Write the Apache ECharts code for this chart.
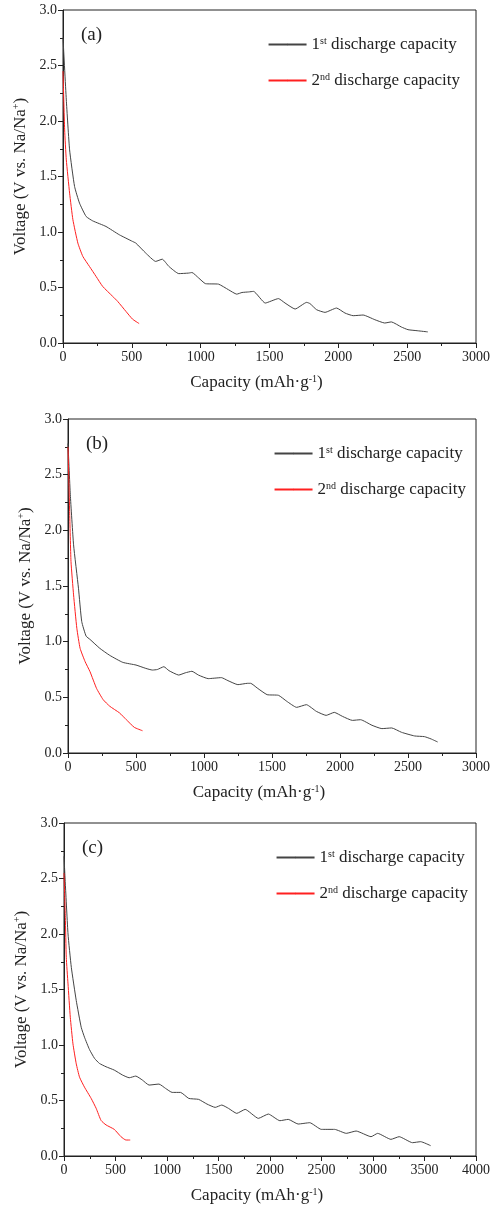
<!DOCTYPE html>
<html>
<head>
<meta charset="utf-8">
<script src="https://cdn.jsdelivr.net/npm/echarts@6/dist/echarts.min.js"></script>
<style>
  html, body { margin: 0; padding: 0; background: #fff; }
  #chart { width: 493px; height: 1207px; }
</style>
</head>
<body>
<div id="chart"></div>
<script>
// Panel (a)
const capA1 = [0, 24, 48, 84, 120, 168, 216, 312, 409, 505, 529, 601, 673, 721, 769, 841, 913, 937, 986, 1034, 1130, 1202, 1262, 1300, 1348, 1384, 1469, 1565, 1613, 1686, 1770, 1794, 1842, 1903, 1987, 2048, 2108, 2180, 2265, 2337, 2385, 2458, 2506, 2578, 2650];
const voltA1 = [2.75, 2.19, 1.74, 1.41, 1.26, 1.14, 1.10, 1.05, 0.975, 0.915, 0.90, 0.81, 0.735, 0.755, 0.69, 0.625, 0.63, 0.635, 0.585, 0.535, 0.53, 0.48, 0.44, 0.455, 0.46, 0.465, 0.36, 0.40, 0.36, 0.306, 0.366, 0.355, 0.30, 0.276, 0.315, 0.27, 0.246, 0.252, 0.21, 0.18, 0.19, 0.144, 0.12, 0.11, 0.10];
const capA2 = [0, 12, 24, 48, 72, 108, 144, 192, 240, 288, 361, 397, 457, 505, 553];
const voltA2 = [2.45, 1.92, 1.65, 1.35, 1.11, 0.90, 0.78, 0.69, 0.60, 0.51, 0.42, 0.375, 0.285, 0.215, 0.175];

// Panel (b)
const capB1 = [0, 17, 41, 77, 101, 133, 162, 234, 307, 403, 500, 572, 621, 657, 705, 742, 814, 862, 911, 959, 1031, 1128, 1176, 1249, 1321, 1343, 1391, 1464, 1548, 1609, 1681, 1753, 1826, 1898, 1958, 2018, 2091, 2151, 2235, 2308, 2380, 2452, 2549, 2621, 2670, 2718];
const voltB1 = [2.78, 2.32, 1.87, 1.48, 1.18, 1.05, 1.02, 0.94, 0.877, 0.814, 0.79, 0.76, 0.745, 0.75, 0.775, 0.74, 0.70, 0.72, 0.734, 0.70, 0.668, 0.677, 0.65, 0.614, 0.626, 0.626, 0.584, 0.524, 0.518, 0.464, 0.41, 0.434, 0.374, 0.338, 0.365, 0.329, 0.293, 0.299, 0.249, 0.219, 0.225, 0.186, 0.153, 0.147, 0.126, 0.099];
const capB2 = [0, 12, 22, 41, 65, 89, 126, 162, 210, 258, 307, 379, 428, 488, 548];
const voltB2 = [2.75, 2.17, 1.72, 1.42, 1.12, 0.94, 0.82, 0.73, 0.58, 0.48, 0.42, 0.36, 0.30, 0.23, 0.20];

// Panel (c)
const capC1 = [0, 13, 39, 71, 119, 167, 199, 247, 296, 344, 408, 488, 569, 633, 697, 761, 826, 922, 986, 1050, 1131, 1211, 1307, 1388, 1468, 1532, 1597, 1677, 1759, 1887, 1984, 2096, 2177, 2273, 2386, 2498, 2627, 2740, 2836, 2981, 3045, 3174, 3254, 3383, 3463, 3560];
const voltC1 = [2.7, 2.45, 2.0, 1.70, 1.40, 1.16, 1.07, 0.96, 0.88, 0.834, 0.804, 0.774, 0.729, 0.705, 0.72, 0.684, 0.639, 0.648, 0.609, 0.573, 0.573, 0.519, 0.51, 0.468, 0.438, 0.459, 0.429, 0.384, 0.42, 0.339, 0.378, 0.318, 0.33, 0.288, 0.30, 0.24, 0.24, 0.204, 0.225, 0.174, 0.204, 0.15, 0.174, 0.12, 0.129, 0.093];
const capC2 = [0, 13, 22, 39, 61, 87, 119, 151, 199, 263, 312, 360, 408, 488, 553, 601, 643];
const voltC2 = [2.55, 2.15, 1.79, 1.55, 1.25, 1.01, 0.83, 0.71, 0.62, 0.52, 0.43, 0.32, 0.28, 0.24, 0.174, 0.144, 0.144];

const panelLabels = ['(a)', '(b)', '(c)'];
const xMaxes = [3000, 3000, 4000];
const seriesNames = ['1st discharge capacity', '2nd discharge capacity'];

const font = 'Liberation Serif';
const lineColors = ['#444', '#ff2020'];
const grids = [
    { left: 63, right: 15, top: 10, height: 333 },
    { left: 68, right: 11, top: 419, height: 334 },
    { left: 64, right: 14, top: 823, height: 333 }
];
const legendRight = [33, 27, 25];

function pairs(xs, ys) {
    return xs.map(function(x, i) { return [x, ys[i]]; });
}

const curves = [
    [pairs(capA1, voltA1), pairs(capA2, voltA2)],
    [pairs(capB1, voltB1), pairs(capB2, voltB2)],
    [pairs(capC1, voltC1), pairs(capC2, voltC2)]
];

const supStyle = { fontSize: 10, verticalAlign: 'top', padding: [0, 0, 7, 0], fontFamily: font, color: '#222' };

const chart = echarts.init(document.getElementById('chart'));

const xAxes = [], yAxes = [], series = [], legends = [], titles = [];
grids.forEach(function(g, i) {
    g.show = true;
    g.borderColor = '#222';
    g.borderWidth = 1;
    // unique names per panel so each legend picks its own series
    const names = seriesNames.map(function(n) { return n + ' ' + panelLabels[i]; });
    xAxes.push({
        type: 'value',
        gridIndex: i,
        min: 0,
        max: xMaxes[i],
        interval: 500,
        splitLine: { show: false },
        axisLine: { lineStyle: { color: '#222', width: 1 } },
        axisTick: { length: 5, lineStyle: { color: '#222' } },
        minorTick: { show: true, splitNumber: 2, length: 3, lineStyle: { color: '#222' } },
        axisLabel: {
            color: '#222', fontFamily: font, fontSize: 14, margin: 7,
            formatter: function(v) { return String(v); }
        },
        name: 'Capacity (mAh·g{sup|-1})',
        nameLocation: 'middle',
        nameGap: 31,
        nameTextStyle: {
            color: '#222', fontFamily: font, fontSize: 17,
            padding: [0, 26, 0, 0],
            rich: { sup: supStyle }
        }
    });
    yAxes.push({
        type: 'value',
        gridIndex: i,
        min: 0,
        max: 3,
        interval: 0.5,
        splitLine: { show: false },
        axisLine: { lineStyle: { color: '#222', width: 1 } },
        axisTick: { length: 5, lineStyle: { color: '#222' } },
        minorTick: { show: true, splitNumber: 2, length: 3, lineStyle: { color: '#222' } },
        axisLabel: {
            color: '#222', fontFamily: font, fontSize: 14, margin: 6,
            formatter: function(v) { return v.toFixed(1); }
        },
        name: 'Voltage (V vs. Na/Na{sup|+})',
        nameLocation: 'middle',
        nameRotate: 90,
        nameGap: 29,
        nameTextStyle: {
            color: '#222', fontFamily: font, fontSize: 17,
            rich: { sup: supStyle }
        }
    });
    names.forEach(function(name, k) {
        series.push({
            name: name,
            type: 'line',
            xAxisIndex: i,
            yAxisIndex: i,
            data: curves[i][k],
            symbol: 'none',
            smooth: 0.15,
            color: lineColors[k],
            lineStyle: { color: lineColors[k], width: 1 },
            itemStyle: { color: lineColors[k] }
        });
    });
    legends.push({
        data: names,
        orient: 'vertical',
        right: legendRight[i],
        top: g.top + 26,
        padding: 0,
        itemGap: 19,
        itemWidth: 38,
        itemHeight: 2,
        textStyle: {
            color: '#222', fontFamily: font, fontSize: 17,
            rich: { sup: supStyle }
        },
        formatter: function(name) {
            return name.indexOf('1st') === 0
                ? '1{sup|st} discharge capacity'
                : '2{sup|nd} discharge capacity';
        },
        selectedMode: false
    });
    titles.push({
        text: panelLabels[i],
        left: g.left + 13,
        top: g.top + 11,
        textStyle: { color: '#222', fontFamily: font, fontSize: 19, fontWeight: 'normal' }
    });
});

const option = {
    animation: false,
    backgroundColor: '#fff',
    title: titles,
    legend: legends,
    grid: grids,
    xAxis: xAxes,
    yAxis: yAxes,
    series: series
};
chart.setOption(option);
</script>
</body>
</html>
